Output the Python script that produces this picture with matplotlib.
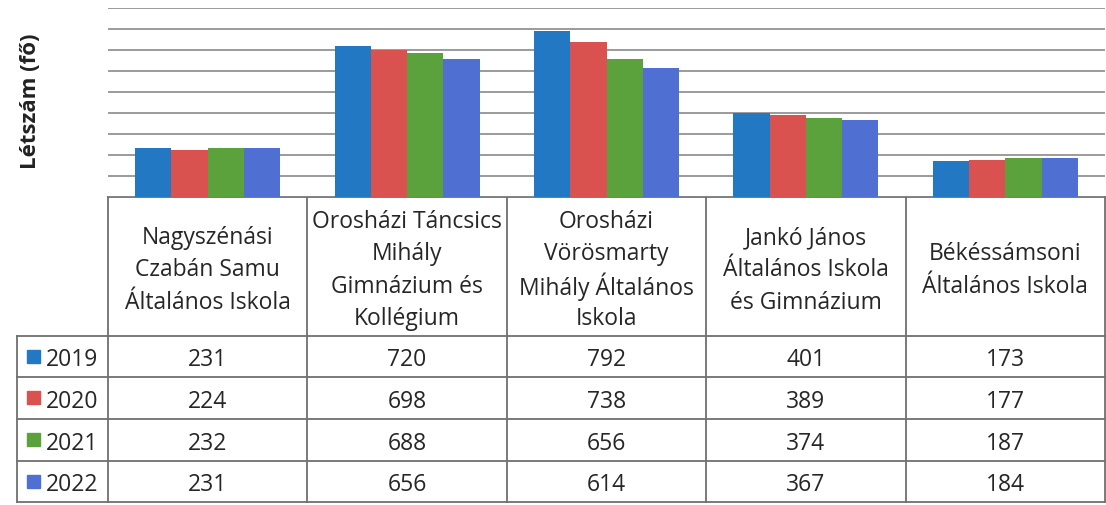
import matplotlib.pyplot as plt
import numpy as np
from matplotlib.patches import Rectangle

# iskolák és létszámadatok
schools = ['Nagyszénási\nCzabán Samu\nÁltalános Iskola',
           'Orosházi Táncsics\nMihály\nGimnázium és\nKollégium',
           'Orosházi\nVörösmarty\nMihály Általános\nIskola',
           'Jankó János\nÁltalános Iskola\nés Gimnázium',
           'Békéssámsoni\nÁltalános Iskola']
years = ['2019', '2020', '2021', '2022']
v2019 = [231, 720, 792, 401, 173]
v2020 = [224, 698, 738, 389, 177]
v2021 = [232, 688, 656, 374, 187]
v2022 = [231, 656, 614, 367, 184]
series = [v2019, v2020, v2021, v2022]
colors = ['#2378c3', '#d9524f', '#5ba23c', '#4f6fd2']

plt.rcParams['font.family'] = ['Open Sans', 'DejaVu Sans']

W, H = 1106, 506
fig = plt.figure(figsize=(W / 100, H / 100), dpi=100)

# háttér tengely pixel koordinátákkal (táblázat)
bg = fig.add_axes([0, 0, 1, 1])
bg.set_xlim(0, W)
bg.set_ylim(H, 0)
bg.axis('off')

x0, x1 = 108, 1105
base, top = 198, 9
ax = fig.add_axes([x0 / W, 1 - base / H, (x1 - x0) / W, (base - top) / H])
ax.set_xlim(0, 5)
ax.set_ylim(0, 900)
ax.set_yticks(np.arange(0, 901, 100))
ax.yaxis.grid(True, color='#8a8a8a', lw=1.2)
ax.set_axisbelow(True)
ax.tick_params(left=False, bottom=False, labelleft=False, labelbottom=False)
for s in ax.spines.values():
    s.set_visible(False)
ax.patch.set_alpha(0)

bw = 0.182
x = np.arange(len(schools)) + 0.5
for i, vals in enumerate(series):
    ax.bar(x + (i - 1.5) * bw, vals, bw, color=colors[i], edgecolor='none')

bg.text(31, 101, 'Létszám (fő)', rotation=90, fontweight='bold', fontsize=16,
        ha='center', va='center', color='#222222')

# táblázat
colw = (x1 - x0) / 5
rows = [337, 378, 420, 462, 503]
lc = '#707070'
bg.plot([x0, x1], [base, base], color=lc, lw=1.3)
for y in rows:
    bg.plot([17, x1], [y, y], color=lc, lw=1.3)
bg.plot([17, 17], [rows[0], rows[-1]], color=lc, lw=1.3)
for i in range(6):
    xx = x0 + i * colw
    bg.plot([xx, xx], [base, rows[-1]], color=lc, lw=1.3)

fs = 16.5
tc = '#262626'
pitch = 32.5
hc = (base + rows[0]) / 2
for i, name in enumerate(schools):
    lines = name.split('\n')
    for k, line in enumerate(lines):
        yc = hc + (k - (len(lines) - 1) / 2) * pitch
        bg.text(x0 + (i + 0.5) * colw, yc, line, ha='center', va='center_baseline',
                fontsize=fs, color=tc)

for r, (yr, vals) in enumerate(zip(years, series)):
    yc = (rows[r] + rows[r + 1]) / 2
    bg.add_patch(Rectangle((27, yc - 7), 13, 13, color=colors[r]))
    bg.text(46, yc, yr, ha='left', va='center_baseline', fontsize=fs, color=tc)
    for i, v in enumerate(vals):
        bg.text(x0 + (i + 0.5) * colw, yc, str(v), ha='center', va='center_baseline',
                fontsize=fs, color=tc)

fig.savefig('out.png', dpi=100)
